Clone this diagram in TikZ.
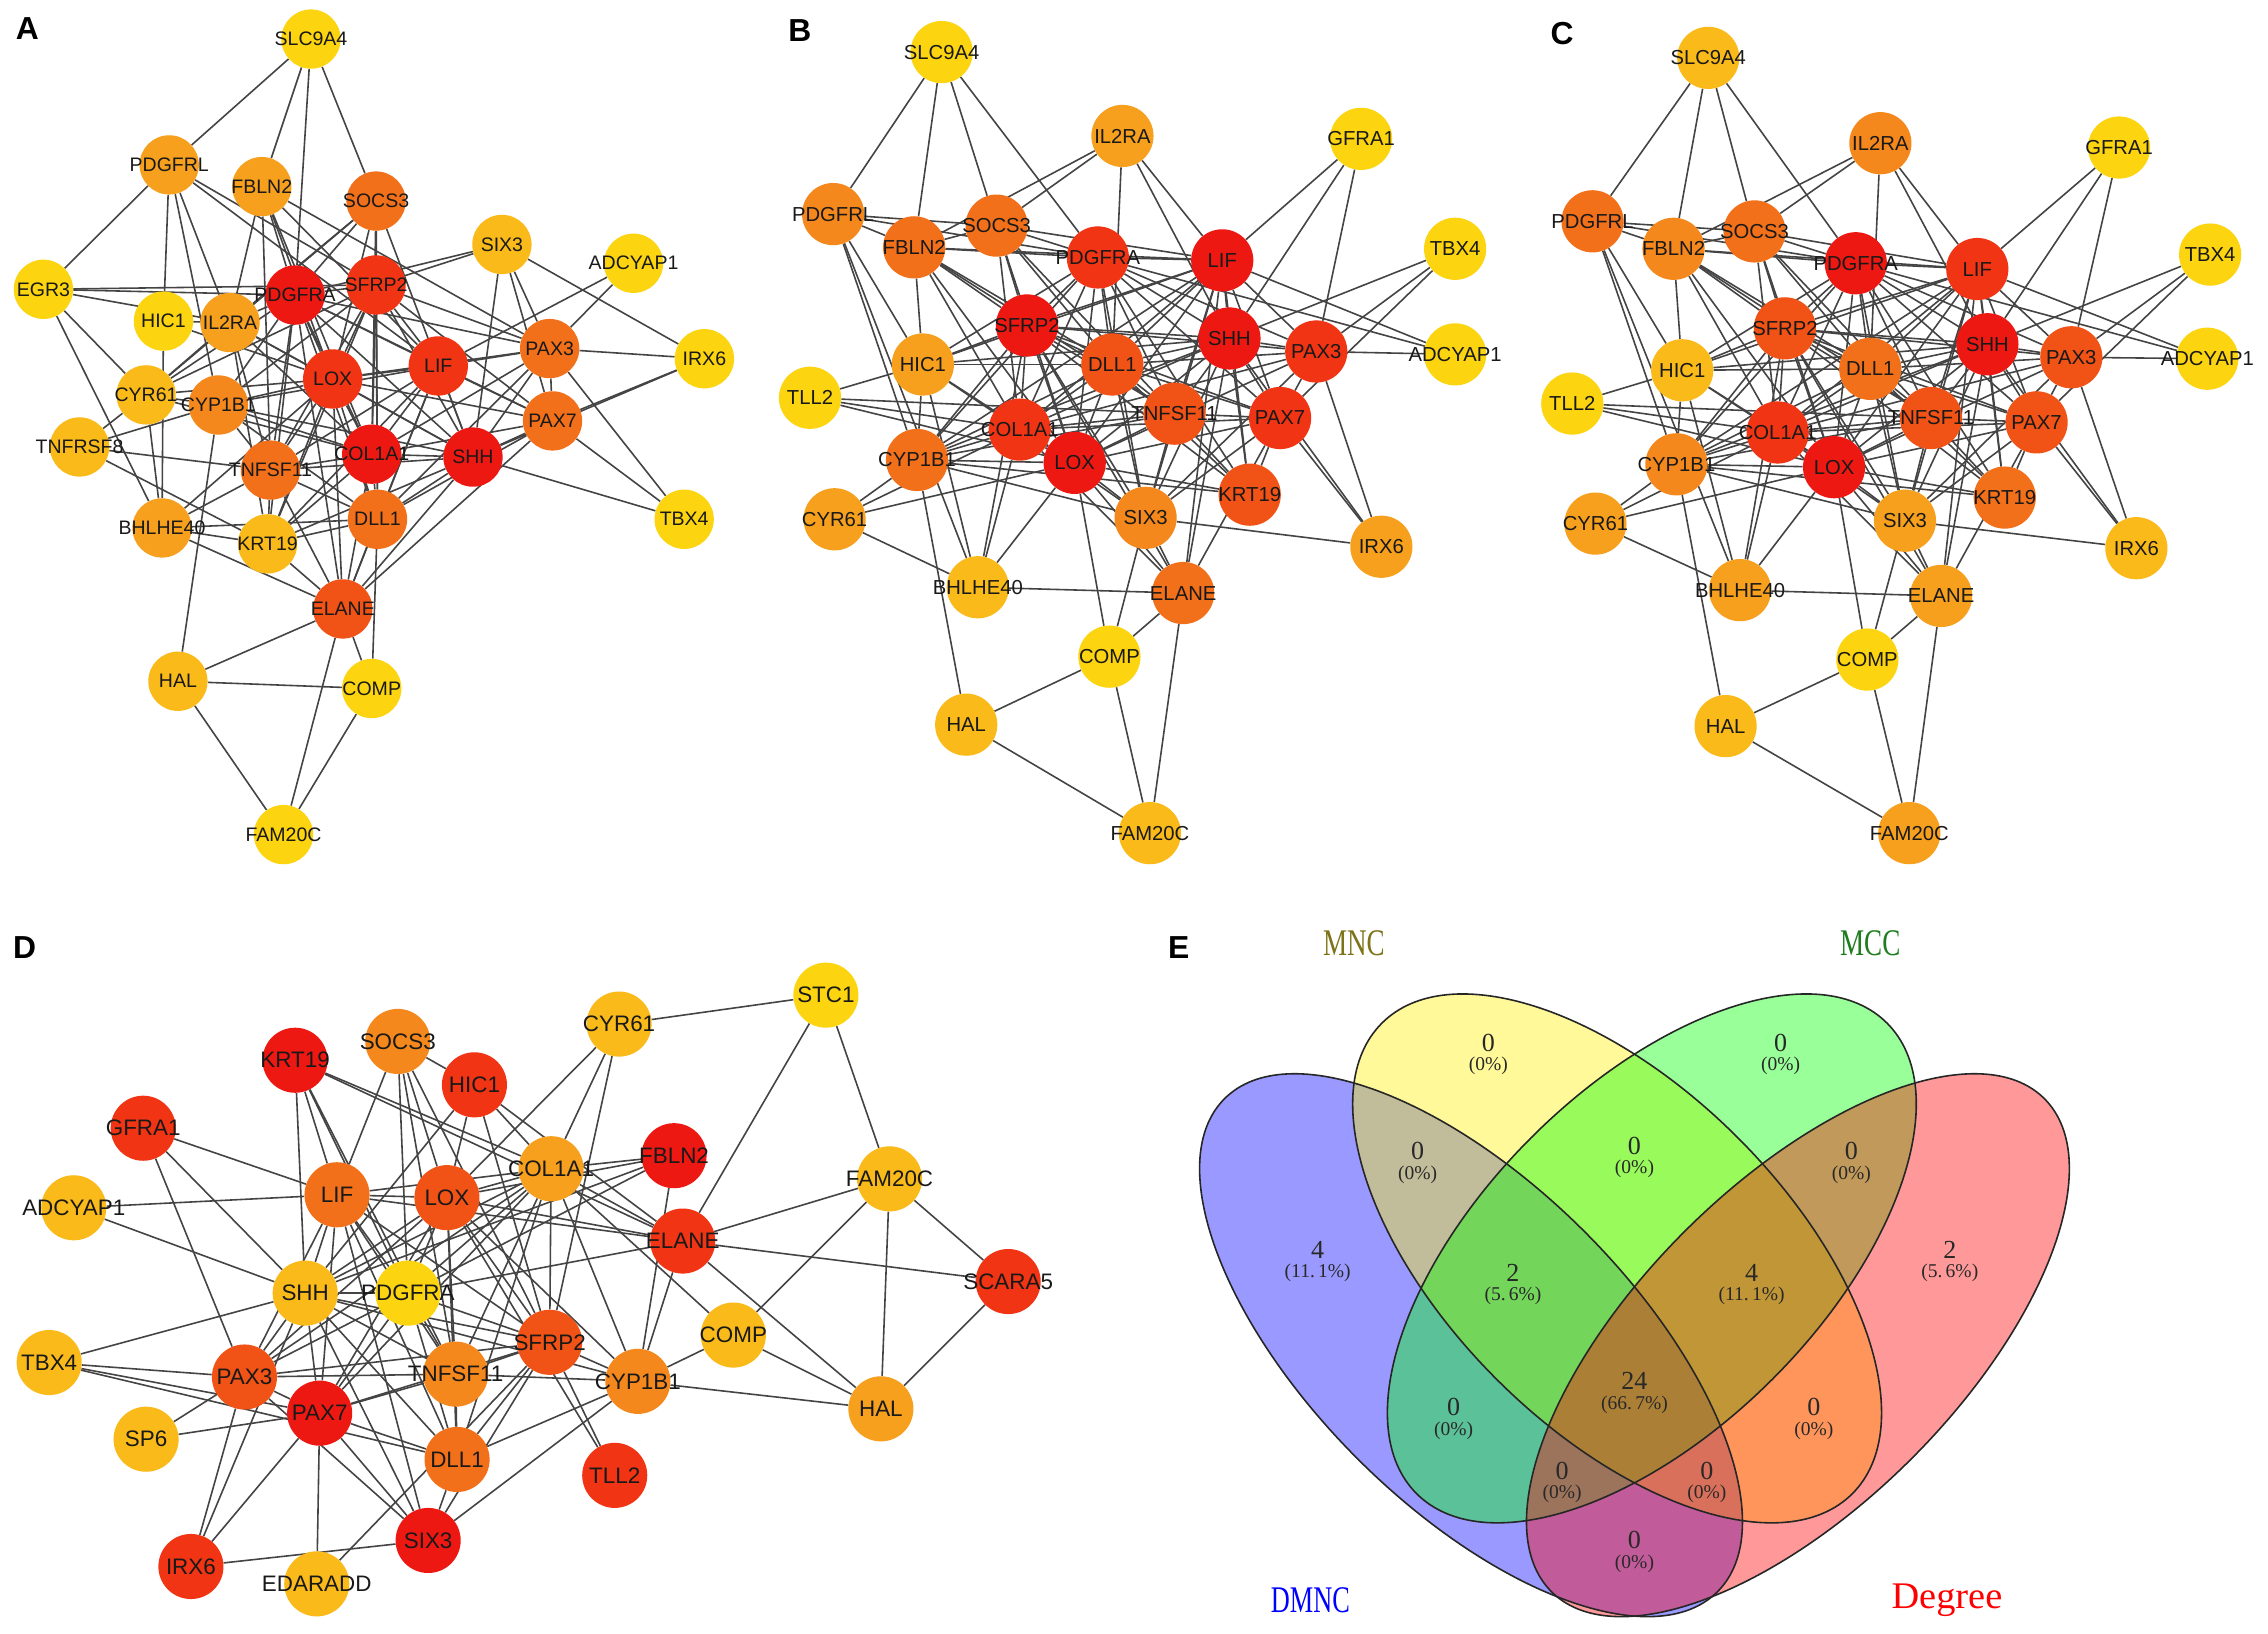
\documentclass[tikz,border=0pt]{standalone}
\usepackage{fontspec}
\usepackage{graphicx}
\setmainfont{Liberation Sans}
\newfontfamily\vfont{Liberation Serif}
\pgfdeclarelayer{bg}\pgfdeclarelayer{fg}\pgfsetlayers{bg,main,fg}
\definecolor{cR1}{RGB}{238,24,18}
\definecolor{cR2}{RGB}{240,52,20}
\definecolor{cR3}{RGB}{241,82,22}
\definecolor{cO1}{RGB}{243,112,26}
\definecolor{cO2}{RGB}{245,136,28}
\definecolor{cO3}{RGB}{246,160,30}
\definecolor{cY1}{RGB}{250,186,26}
\definecolor{cY2}{RGB}{252,212,16}
\definecolor{egray}{RGB}{68,68,68}
\definecolor{txt}{RGB}{25,25,25}
\definecolor{mncc}{RGB}{125,115,25}
\definecolor{mccc}{RGB}{30,125,30}
\definecolor{vtxt}{RGB}{40,40,40}
\tikzset{
  nA/.style={circle,draw=none,minimum size=41pt,inner sep=0pt},
  nB/.style={circle,draw=none,minimum size=43pt,inner sep=0pt},
  nD/.style={circle,draw=none,minimum size=45pt,inner sep=0pt},
  tA/.style={inner sep=0pt,text=txt,font=\fontsize{13.5}{14}\selectfont},
  tB/.style={inner sep=0pt,text=txt,font=\fontsize{14}{15}\selectfont},
  tD/.style={inner sep=0pt,text=txt,font=\fontsize{15.5}{16}\selectfont},
  lnk/.style={draw=egray,line width=1.1pt},
  plab/.style={inner sep=0pt,font=\fontsize{22}{22}\selectfont\bfseries},
  vnum/.style={inner sep=0pt,text=vtxt,font=\vfont\fontsize{18}{18}\selectfont},
  vpct/.style={inner sep=0pt,text=vtxt,font=\vfont\fontsize{13.5}{13.5}\selectfont},
  vlab/.style={inner sep=0pt,font=\vfont\fontsize{26}{26}\selectfont},
  vring/.style={draw=black!85,line width=1.1pt}
}
\def\nodesA{SLC9A4/215/27/cY2, PDGFRL/117/114/cO3, FBLN2/181/129/cO3, SOCS3/260/139/cO1, SIX3/347/169/cY1, ADCYAP1/438/182/cY2, EGR3/30/200/cY2, HIC1/113/222/cY2, IL2RA/159/223/cO3, PDGFRA/204/204/cR1, SFRP2/260/197/cR2, LIF/303/253/cR2, LOX/230/262/cR2, PAX3/380/241/cO1, IRX6/487/248/cY2, CYR61/101/273/cY1, CYP1B1/151/280/cO2, PAX7/382/291/cO1, TNFRSF8/55/309/cY1, COL1A1/257/314/cR1, SHH/327/316/cR1, TNFSF11/187/325/cO1, BHLHE40/112/365/cO3, KRT19/185/376/cY1, DLL1/261/359/cO1, TBX4/473/359/cY2, ELANE/237/421/cR3, HAL/123/471/cY1, COMP/257/476/cY2, FAM20C/196/577/cY2}
\def\nodesB{SLC9A4/651/36/cY2, IL2RA/776/94/cO3, GFRA1/941/96/cY2, PDGFRL/576/148/cO2, FBLN2/632/171/cO1, SOCS3/689/156/cO1, PDGFRA/759/178/cR2, LIF/845/180/cR1, TBX4/1006/172/cY2, SFRP2/710/225/cR1, SHH/850/234/cR1, PAX3/910/243/cR2, ADCYAP1/1006/245/cY2, HIC1/638/252/cO3, DLL1/769/252/cR3, TLL2/560/275/cY2, TNFSF11/812/286/cR3, PAX7/885/289/cR2, COL1A1/705/297/cR2, CYP1B1/634/318/cO1, LOX/743/320/cR1, KRT19/864/342/cR3, CYR61/577/359/cO3, SIX3/792/358/cO2, IRX6/955/378/cO3, BHLHE40/676/406/cY1, ELANE/818/410/cO1, COMP/767/454/cY2, HAL/668/501/cY1, FAM20C/795/576/cY1}
\def\nodesC{SLC9A4/1181/40/cY1, IL2RA/1300/99/cO2, GFRA1/1465/102/cY2, PDGFRL/1101/153/cO1, FBLN2/1157/172/cO2, SOCS3/1213/160/cO1, PDGFRA/1283/182/cR1, LIF/1367/186/cR2, TBX4/1528/176/cY2, SFRP2/1234/227/cR3, SHH/1374/238/cR1, PAX3/1432/247/cR3, ADCYAP1/1526/248/cY2, HIC1/1163/256/cY1, DLL1/1293/255/cO1, TLL2/1087/279/cY2, TNFSF11/1335/289/cR3, PAX7/1408/292/cR3, COL1A1/1229/299/cR2, CYP1B1/1159/321/cO2, LOX/1268/323/cR1, KRT19/1386/344/cO1, CYR61/1103/362/cO3, SIX3/1317/360/cO3, IRX6/1477/379/cY1, BHLHE40/1203/408/cO3, ELANE/1342/412/cO3, COMP/1291/456/cY2, HAL/1193/502/cY1, FAM20C/1320/576/cO3}
\def\nodesD{STC1/571/688/cY2, CYR61/428/708/cY1, SOCS3/275/720/cO2, KRT19/204/733/cR1, HIC1/328/750/cR2, GFRA1/99/780/cR2, FBLN2/466/799/cR1, COL1A1/381/808/cO3, FAM20C/615/815/cY1, LIF/233/826/cO1, LOX/309/828/cR3, ADCYAP1/51/835/cY1, ELANE/472/858/cR2, SCARA5/697/886/cR2, SHH/211/894/cY1, PDGFRA/282/894/cY2, COMP/507/923/cY1, SFRP2/380/928/cR3, TBX4/34/942/cY1, PAX3/169/952/cR3, TNFSF11/315/950/cO2, CYP1B1/441/955/cO2, HAL/609/974/cO3, PAX7/221/977/cR1, SP6/101/995/cY1, DLL1/316/1009/cO1, TLL2/425/1020/cR2, SIX3/296/1065/cR1, IRX6/132/1083/cR2, EDARADD/219/1095/cY1}
\def\edgesA{SLC9A4/PDGFRL, SLC9A4/FBLN2, SLC9A4/PDGFRA, SLC9A4/SOCS3, PDGFRL/EGR3, PDGFRL/HIC1, PDGFRL/IL2RA, PDGFRL/CYP1B1, PDGFRL/SFRP2, PDGFRL/LIF, FBLN2/PDGFRA, FBLN2/LOX, FBLN2/TNFSF11, FBLN2/IL2RA, FBLN2/LIF, FBLN2/PAX3, FBLN2/COL1A1, SOCS3/PDGFRA, SOCS3/SFRP2, SOCS3/LOX, SOCS3/COL1A1, SOCS3/CYR61, SOCS3/IL2RA, SOCS3/SHH, SOCS3/DLL1, SIX3/SFRP2, SIX3/PDGFRA, SIX3/PAX3, SIX3/PAX7, SIX3/SHH, SIX3/IRX6, ADCYAP1/PAX3, ADCYAP1/LIF, IRX6/PAX3, IRX6/PAX7, IRX6/SHH, TBX4/PAX3, TBX4/PAX7, TBX4/SHH, EGR3/PDGFRA, EGR3/IL2RA, EGR3/CYR61, EGR3/BHLHE40, EGR3/SFRP2, HIC1/IL2RA, HIC1/BHLHE40, HIC1/LOX, IL2RA/PDGFRA, IL2RA/CYR61, IL2RA/LOX, IL2RA/COL1A1, IL2RA/TNFSF11, IL2RA/KRT19, IL2RA/SHH, PDGFRA/SFRP2, PDGFRA/LOX, PDGFRA/LIF, PDGFRA/COL1A1, PDGFRA/SHH, PDGFRA/PAX3, PDGFRA/PAX7, PDGFRA/TNFSF11, PDGFRA/DLL1, PDGFRA/CYR61, PDGFRA/CYP1B1, PDGFRA/ELANE, PDGFRA/KRT19, SFRP2/LIF, SFRP2/LOX, SFRP2/COL1A1, SFRP2/SHH, SFRP2/PAX3, SFRP2/PAX7, SFRP2/DLL1, SFRP2/TNFSF11, SFRP2/CYR61, SFRP2/CYP1B1, SFRP2/KRT19, LIF/LOX, LIF/COL1A1, LIF/SHH, LIF/PAX3, LIF/PAX7, LIF/DLL1, LIF/TNFSF11, LIF/ELANE, LIF/CYP1B1, LIF/KRT19, LOX/COL1A1, LOX/SHH, LOX/PAX3, LOX/PAX7, LOX/DLL1, LOX/TNFSF11, LOX/CYR61, LOX/CYP1B1, LOX/ELANE, LOX/KRT19, LOX/BHLHE40, PAX3/PAX7, PAX3/SHH, PAX3/COL1A1, PAX3/DLL1, PAX7/SHH, PAX7/COL1A1, PAX7/DLL1, PAX7/ELANE, CYR61/CYP1B1, CYR61/BHLHE40, CYR61/TNFRSF8, CYR61/COL1A1, CYP1B1/COL1A1, CYP1B1/SHH, CYP1B1/HAL, CYP1B1/TNFSF11, CYP1B1/DLL1, TNFRSF8/TNFSF11, TNFRSF8/KRT19, TNFRSF8/CYP1B1, COL1A1/SHH, COL1A1/TNFSF11, COL1A1/DLL1, COL1A1/ELANE, COL1A1/KRT19, SHH/DLL1, SHH/TNFSF11, SHH/ELANE, SHH/KRT19, TNFSF11/DLL1, TNFSF11/KRT19, TNFSF11/ELANE, TNFSF11/BHLHE40, BHLHE40/KRT19, BHLHE40/ELANE, BHLHE40/DLL1, KRT19/DLL1, KRT19/ELANE, DLL1/ELANE, DLL1/COMP, ELANE/HAL, ELANE/COMP, ELANE/FAM20C, HAL/COMP, HAL/FAM20C, COMP/FAM20C}
\def\edgesBC{SLC9A4/PDGFRL, SLC9A4/FBLN2, SLC9A4/SOCS3, SLC9A4/PDGFRA, IL2RA/SOCS3, IL2RA/FBLN2, IL2RA/LIF, IL2RA/DLL1, IL2RA/SHH, GFRA1/LIF, GFRA1/SHH, GFRA1/PAX3, TBX4/PAX3, TBX4/SHH, TBX4/PAX7, ADCYAP1/PAX3, ADCYAP1/LIF, ADCYAP1/PDGFRA, PDGFRL/FBLN2, PDGFRL/SOCS3, PDGFRL/PDGFRA, PDGFRL/HIC1, PDGFRL/CYP1B1, PDGFRL/BHLHE40, FBLN2/SOCS3, FBLN2/PDGFRA, FBLN2/LIF, FBLN2/HIC1, FBLN2/SFRP2, FBLN2/DLL1, FBLN2/COL1A1, FBLN2/TNFSF11, FBLN2/LOX, SOCS3/PDGFRA, SOCS3/LIF, SOCS3/SFRP2, SOCS3/COL1A1, SOCS3/DLL1, SOCS3/TNFSF11, SOCS3/LOX, PDGFRA/LIF, PDGFRA/SFRP2, PDGFRA/SHH, PDGFRA/DLL1, PDGFRA/COL1A1, PDGFRA/LOX, PDGFRA/TNFSF11, PDGFRA/PAX3, PDGFRA/PAX7, PDGFRA/HIC1, PDGFRA/KRT19, PDGFRA/CYP1B1, PDGFRA/SIX3, LIF/SHH, LIF/PAX3, LIF/PAX7, LIF/DLL1, LIF/SFRP2, LIF/COL1A1, LIF/LOX, LIF/TNFSF11, LIF/SIX3, LIF/KRT19, LIF/ELANE, LIF/CYP1B1, LIF/HIC1, SFRP2/SHH, SFRP2/PAX3, SFRP2/HIC1, SFRP2/DLL1, SFRP2/COL1A1, SFRP2/LOX, SFRP2/TNFSF11, SFRP2/PAX7, SFRP2/CYP1B1, SFRP2/SIX3, SFRP2/BHLHE40, SFRP2/KRT19, SFRP2/ELANE, SHH/PAX3, SHH/PAX7, SHH/DLL1, SHH/TNFSF11, SHH/COL1A1, SHH/LOX, SHH/SIX3, SHH/KRT19, SHH/ELANE, SHH/HIC1, SHH/CYP1B1, SHH/IRX6, PAX3/PAX7, PAX3/IRX6, PAX3/DLL1, PAX3/LOX, PAX3/COL1A1, PAX3/SIX3, HIC1/TLL2, HIC1/DLL1, HIC1/BHLHE40, HIC1/COL1A1, HIC1/LOX, HIC1/CYP1B1, DLL1/COL1A1, DLL1/LOX, DLL1/TNFSF11, DLL1/PAX7, DLL1/SIX3, DLL1/KRT19, DLL1/CYP1B1, TLL2/COL1A1, TLL2/LOX, TLL2/TNFSF11, TNFSF11/PAX7, TNFSF11/COL1A1, TNFSF11/LOX, TNFSF11/KRT19, TNFSF11/SIX3, TNFSF11/CYP1B1, PAX7/COL1A1, PAX7/LOX, PAX7/SIX3, PAX7/IRX6, PAX7/ELANE, PAX7/KRT19, COL1A1/LOX, COL1A1/CYP1B1, COL1A1/CYR61, COL1A1/BHLHE40, COL1A1/SIX3, COL1A1/ELANE, CYP1B1/LOX, CYP1B1/CYR61, CYP1B1/HAL, CYP1B1/KRT19, CYP1B1/SIX3, LOX/CYR61, LOX/KRT19, LOX/SIX3, LOX/ELANE, LOX/COMP, LOX/BHLHE40, CYR61/BHLHE40, SIX3/IRX6, SIX3/COMP, SIX3/ELANE, BHLHE40/ELANE, ELANE/COMP, ELANE/FAM20C, COMP/HAL, COMP/FAM20C, HAL/FAM20C}
\def\edgesD{STC1/CYR61, STC1/FAM20C, STC1/ELANE, CYR61/LOX, CYR61/COL1A1, CYR61/SFRP2, SOCS3/LIF, SOCS3/PDGFRA, SOCS3/LOX, SOCS3/TNFSF11, SOCS3/HIC1, SOCS3/SFRP2, KRT19/SHH, KRT19/LIF, KRT19/PDGFRA, KRT19/COL1A1, KRT19/TNFSF11, KRT19/ELANE, HIC1/LOX, HIC1/SHH, HIC1/COL1A1, HIC1/SFRP2, HIC1/ELANE, GFRA1/LIF, GFRA1/SHH, GFRA1/PAX3, ADCYAP1/LIF, ADCYAP1/SHH, FBLN2/COL1A1, FBLN2/LOX, FBLN2/PDGFRA, FBLN2/CYP1B1, FBLN2/SHH, COL1A1/LOX, COL1A1/LIF, COL1A1/SHH, COL1A1/PDGFRA, COL1A1/SFRP2, COL1A1/TNFSF11, COL1A1/DLL1, COL1A1/CYP1B1, COL1A1/ELANE, COL1A1/COMP, COL1A1/PAX3, COL1A1/PAX7, FAM20C/ELANE, FAM20C/COMP, FAM20C/HAL, FAM20C/SCARA5, LIF/LOX, LIF/SHH, LIF/PDGFRA, LIF/PAX3, LIF/PAX7, LIF/SFRP2, LIF/TNFSF11, LIF/ELANE, LIF/DLL1, LIF/SIX3, LOX/SHH, LOX/PDGFRA, LOX/PAX3, LOX/PAX7, LOX/SFRP2, LOX/TNFSF11, LOX/DLL1, LOX/ELANE, LOX/CYP1B1, LOX/TLL2, ELANE/SCARA5, ELANE/HAL, ELANE/PDGFRA, ELANE/CYP1B1, SCARA5/HAL, SHH/PDGFRA, SHH/TBX4, SHH/PAX3, SHH/PAX7, SHH/SFRP2, SHH/TNFSF11, SHH/DLL1, SHH/SIX3, SHH/IRX6, SHH/CYP1B1, PDGFRA/PAX3, PDGFRA/PAX7, PDGFRA/SFRP2, PDGFRA/TNFSF11, PDGFRA/DLL1, COMP/CYP1B1, COMP/HAL, SFRP2/TNFSF11, SFRP2/PAX3, SFRP2/PAX7, SFRP2/DLL1, SFRP2/SIX3, SFRP2/TLL2, SFRP2/CYP1B1, SFRP2/EDARADD, TBX4/PAX3, TBX4/PAX7, TBX4/DLL1, PAX3/PAX7, PAX3/TNFSF11, PAX3/IRX6, PAX3/SIX3, PAX3/SP6, TNFSF11/PAX7, TNFSF11/DLL1, TNFSF11/CYP1B1, CYP1B1/HAL, CYP1B1/DLL1, CYP1B1/SIX3, PAX7/DLL1, PAX7/SIX3, PAX7/IRX6, PAX7/EDARADD, PAX7/SP6, DLL1/SIX3, SIX3/IRX6}
\begin{document}
\begin{tikzpicture}[x=1pt,y=-1pt]
\useasboundingbox (0,0) rectangle (1568,1129);
% panel letters
\node[plab] (labA) at (19,20) {A};
\node[plab] (labB) at (553,21) {B};
\node[plab] (labC) at (1080,23) {C};
\node[plab] (labD) at (17,655) {D};
\node[plab] (labE) at (815,655) {E};
% nodes
\foreach \n/\x/\y/\c in \nodesA {\node[nA,fill=\c] (a\n) at (\x,\y) {};}
\foreach \n/\x/\y/\c in \nodesB {\node[nB,fill=\c] (b\n) at (\x,\y) {};}
\foreach \n/\x/\y/\c in \nodesC {\node[nB,fill=\c] (c\n) at (\x,\y) {};}
\foreach \n/\x/\y/\c in \nodesD {\node[nD,fill=\c] (d\n) at (\x,\y) {};}
\begin{pgfonlayer}{fg}
\foreach \n/\x/\y/\c in \nodesA {\node[tA] (a\n-t) at (a\n.center) {\n};}
\foreach \n/\x/\y/\c in \nodesB {\node[tB] (b\n-t) at (b\n.center) {\n};}
\foreach \n/\x/\y/\c in \nodesC {\node[tB] (c\n-t) at (c\n.center) {\n};}
\foreach \n/\x/\y/\c in \nodesD {\node[tD] (d\n-t) at (d\n.center) {\n};}
\end{pgfonlayer}
\begin{pgfonlayer}{bg}
\fill[white] (0,0) rectangle (1568,1129);
\foreach \u/\v in \edgesA {\draw[lnk] (a\u) -- (a\v);}
\foreach \u/\v in \edgesBC {\draw[lnk] (b\u) -- (b\v); \draw[lnk] (c\u) -- (c\v);}
\foreach \u/\v in \edgesD {\draw[lnk] (d\u) -- (d\v);}
\end{pgfonlayer}
% Venn diagram
\fill[blue,fill opacity=0.4,rotate around={-45:(1017,930)}] (1017,930) ellipse [x radius=241,y radius=111];
\fill[yellow,fill opacity=0.4,rotate around={-45:(1118,870)}] (1118,870) ellipse [x radius=230,y radius=118];
\fill[green,fill opacity=0.4,rotate around={45:(1142,870)}] (1142,870) ellipse [x radius=230,y radius=118];
\fill[red,fill opacity=0.4,rotate around={45:(1243,930)}] (1243,930) ellipse [x radius=241,y radius=111];
\draw[vring,rotate around={-45:(1017,930)}] (1017,930) ellipse [x radius=241,y radius=111];
\draw[vring,rotate around={-45:(1118,870)}] (1118,870) ellipse [x radius=230,y radius=118];
\draw[vring,rotate around={45:(1142,870)}] (1142,870) ellipse [x radius=230,y radius=118];
\draw[vring,rotate around={45:(1243,930)}] (1243,930) ellipse [x radius=241,y radius=111];
\foreach \i/\x/\y/\m/\p in {v1/1029/721/0/0\%, v2/1231/721/0/0\%, v3/980/796/0/0\%, v4/1130/792/0/0\%, v5/1280/796/0/0\%, v6/911/864/4/11.\,1\%, v7/1348/864/2/5.\,6\%, v8/1046/880/2/5.\,6\%, v9/1211/880/4/11.\,1\%, v10/1130/955/24/66.\,7\%, v11/1005/973/0/0\%, v12/1254/973/0/0\%, v13/1080/1017/0/0\%, v14/1180/1017/0/0\%, v15/1130/1065/0/0\%}
  {\node[vnum] (\i n) at (\x,\y) {\m}; \node[vpct] (\i p) at (\x,\y+16) {(\p)};}
\node[vlab,text=mncc] (lmnc) at (936,652) {\scalebox{0.72}[1]{MNC}};
\node[vlab,text=mccc] (lmcc) at (1293,652) {\scalebox{0.72}[1]{MCC}};
\node[vlab,text=blue] (ldmnc) at (906,1106) {\scalebox{0.7}[1]{DMNC}};
\node[vlab,text=red] (ldeg) at (1346,1106) {\scalebox{1.02}[1]{Degree}};
\end{tikzpicture}
\end{document}
